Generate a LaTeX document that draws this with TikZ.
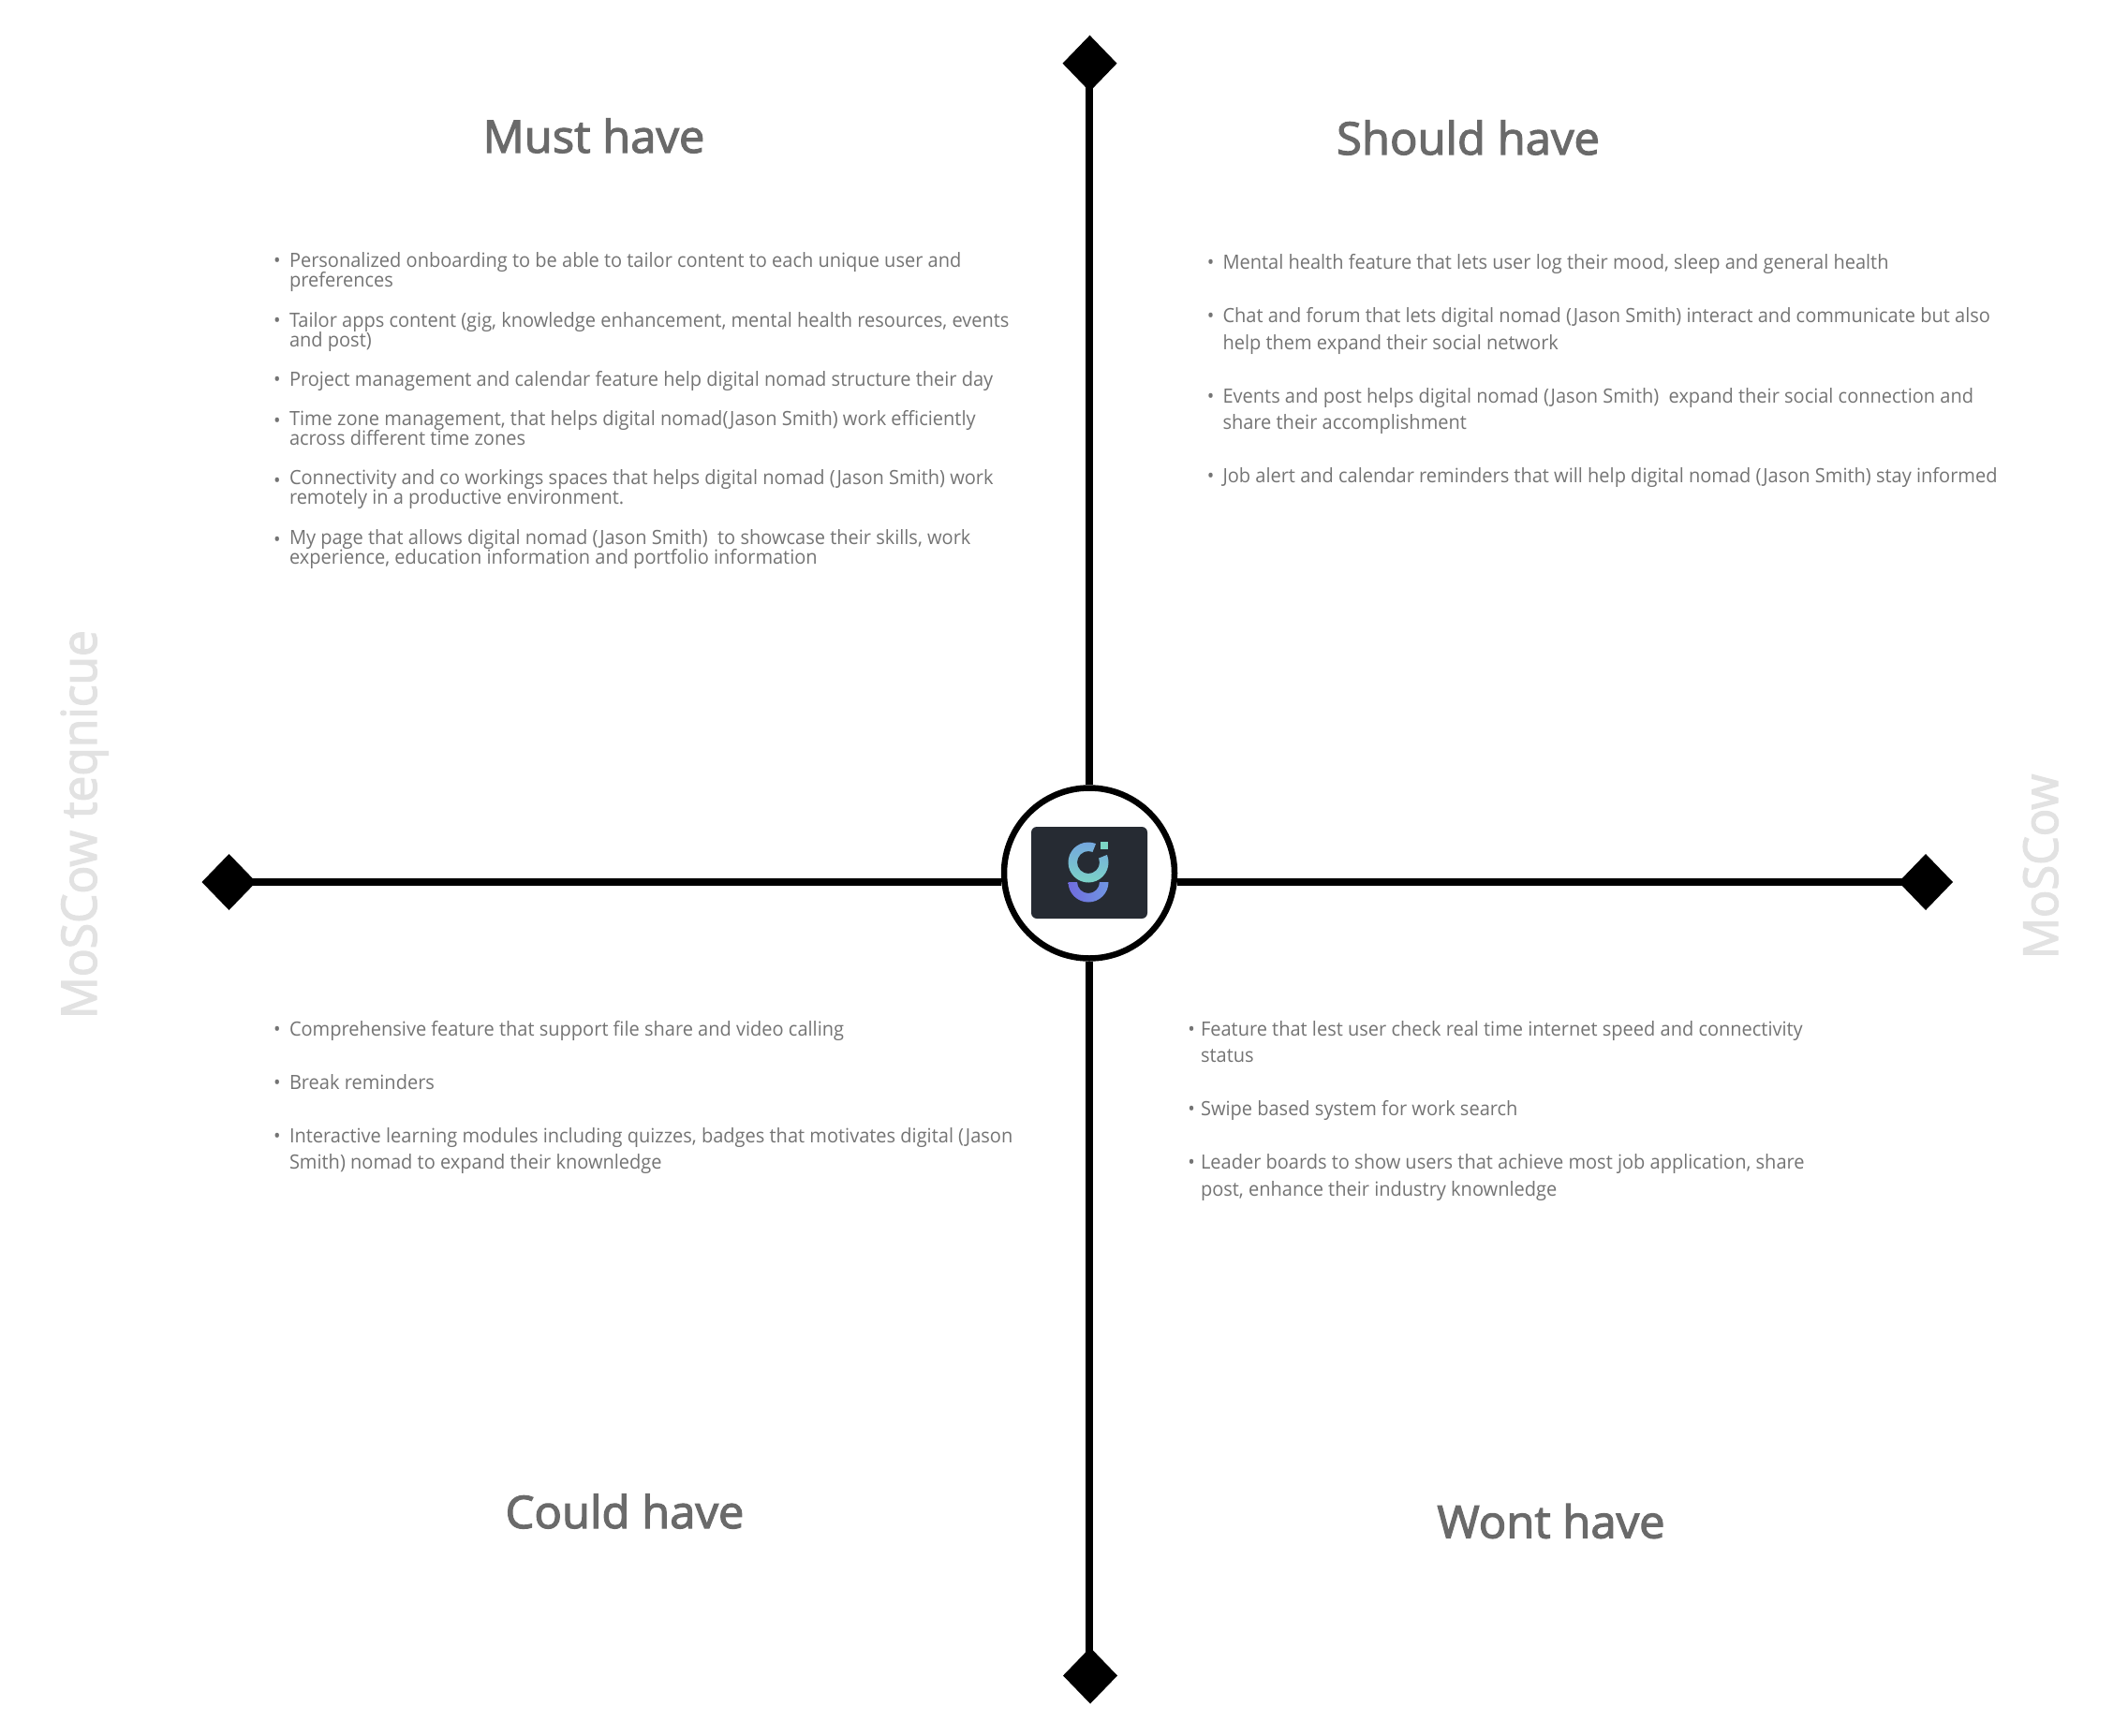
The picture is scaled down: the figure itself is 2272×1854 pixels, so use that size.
\documentclass[tikz,border=0pt]{standalone}
\usepackage{fontspec}
\usetikzlibrary{shapes.geometric}
\setmainfont[FakeStretch=0.953]{Open Sans}
\newfontfamily\headfont[FakeStretch=1.02,FakeBold=2.5]{Open Sans}
\newfontfamily\sidefont[FakeStretch=0.955,FakeBold=2.5]{Open Sans}
\definecolor{bodytext}{HTML}{747474}
\definecolor{headtext}{HTML}{6A6A6A}
\definecolor{sidetext}{HTML}{E2E2E2}
\definecolor{logobg}{HTML}{262B33}
\definecolor{logoteal}{HTML}{7CD6C5}
\definecolor{logoblue}{HTML}{74A4E0}
\definecolor{logoviolet}{HTML}{706CDE}
\definecolor{logosky}{HTML}{7096E2}
\tikzset{
  lineitem/.style={anchor=base west,inner sep=0pt,outer sep=0pt,text=bodytext,font=\fontsize{21}{21}\selectfont},
  bulletmark/.style={anchor=base,inner sep=0pt,outer sep=0pt,text=bodytext,font=\fontsize{21}{21}\selectfont},
  heading/.style={anchor=base,inner sep=0pt,outer sep=0pt,text=headtext,font=\headfont\fontsize{48}{48}\selectfont},
  sidelabel/.style={anchor=base west,rotate=90,inner sep=0pt,outer sep=0pt,text=sidetext,font=\sidefont\fontsize{52}{52}\selectfont},
  endmark/.style={diamond,aspect=1,fill=black,inner sep=0pt,outer sep=0pt,minimum width=58pt,minimum height=60pt},
  hubring/.style={circle,draw=black,fill=white,line width=6.5pt,inner sep=0pt,minimum size=182pt},
  axisline/.style={draw=black,line width=7.5pt},
  logobox/.style={rectangle,fill=logobg,rounded corners=6pt,inner sep=0pt,minimum width=124pt,minimum height=98pt}
}
\begin{document}
\begin{tikzpicture}[x=1pt,y=-1pt]
\useasboundingbox (0,0) rectangle (2272,1854);
\fill[white] (0,0) rectangle (2272,1854);
% hub and end marks
\node[hubring] (hub) at (1163,932.5) {};
\node[logobox] (logo) at (1163,932) {};
\node[endmark] (top) at (1163.5,67.7) {};
\node[endmark] (bottom) at (1164,1789.5) {};
\node[endmark] (left) at (244.5,942) {};
\node[endmark] (right) at (2056,942) {};
% connectors
\draw[axisline] (hub.north |- top.center) -- (hub.north);
\draw[axisline] (hub.south |- bottom.center) -- (hub.south);
\draw[axisline] (left.center) -- (left.center -| hub.west);
\draw[axisline] (right.center) -- (right.center -| hub.east);
% logo
\shade[left color=logoblue,right color=logoteal,shading angle=0]
  (1162,921) ++(-68:21.5) arc[start angle=-68,end angle=-382,radius=21.5]
  -- ++(-22:-9.5) arc[start angle=-382,end angle=-68,radius=12] -- cycle;
\fill[logoteal] (1175,899.3) rectangle (1183.3,907.3);
\shade[left color=logoviolet,right color=logosky]
  (1140.5,942) arc[start angle=180,end angle=0,radius=21.5] -- ++(-9.5,0)
  arc[start angle=0,end angle=180,radius=12] -- cycle;
% headings
\node[heading] (hmust) at (634,163) {Must have};
\node[heading] (hshould) at (1567.5,165) {Should have};
\node[heading] (hcould) at (667,1632) {Could have};
\node[heading] (hwont) at (1656,1642.5) {Wont have};
% side labels
\node[sidelabel] (sideleft) at (103,1088) {MoSCow teqnicue};
\node[sidelabel,font=\sidefont\fontsize{51}{51}\selectfont] (sideright) at (2197,1024) {MoSCow};
% Must have
\node[bulletmark] (mb1) at (296,285) {•};
\node[lineitem] (m1a) at (309,285) {Personalized onboarding to be able to tailor content to each unique user and};
\node[lineitem] (m1b) at (309,306) {preferences};
\node[bulletmark] (mb2) at (296,349) {•};
\node[lineitem] (m2a) at (309,349) {Tailor apps content (gig, knowledge enhancement, mental health resources, events};
\node[lineitem] (m2b) at (309,370) {and post)};
\node[bulletmark] (mb3) at (296,412.3) {•};
\node[lineitem] (m3a) at (309,412.3) {Project management and calendar feature help digital nomad structure their day};
\node[bulletmark] (mb4) at (296,456) {•};
\node[lineitem] (m4a) at (309,454) {Time zone management, that helps digital nomad(Jason Smith) work efficiently};
\node[lineitem] (m4b) at (309,475) {across different time zones};
\node[bulletmark] (mb5) at (296,520) {•};
\node[lineitem] (m5a) at (309,517.3) {Connectivity and co workings spaces that helps digital nomad (Jason Smith) work};
\node[lineitem] (m5b) at (309,538.3) {remotely in a productive environment.};
\node[bulletmark] (mb6) at (296,583) {•};
\node[lineitem] (m6a) at (309,581) {My page that allows digital nomad (Jason Smith)\ \ to showcase their skills, work};
\node[lineitem] (m6b) at (309,602.3) {experience, education information and portfolio information};
% Should have
\node[bulletmark] (sb1) at (1292.5,287) {•};
\node[lineitem] (s1a) at (1305.5,287) {Mental health feature that lets user log their mood, sleep and general health};
\node[bulletmark] (sb2) at (1292.5,344) {•};
\node[lineitem] (s2a) at (1305.5,344) {Chat and forum that lets digital nomad (Jason Smith) interact and communicate but also};
\node[lineitem] (s2b) at (1305.5,373) {help them expand their social network};
\node[bulletmark] (sb3) at (1292.5,430) {•};
\node[lineitem] (s3a) at (1305.5,430) {Events and post helps digital nomad (Jason Smith)\ \ expand their social connection and};
\node[lineitem] (s3b) at (1305.5,458) {share their accomplishment};
\node[bulletmark] (sb4) at (1292.5,515) {•};
\node[lineitem] (s4a) at (1305.5,515) {Job alert and calendar reminders that will help digital nomad (Jason Smith) stay informed};
% Could have
\node[bulletmark] (cb1) at (296,1106) {•};
\node[lineitem] (c1a) at (309,1106) {Comprehensive feature that support file share and video calling};
\node[bulletmark] (cb2) at (296,1163.5) {•};
\node[lineitem] (c2a) at (309,1163.5) {Break reminders};
\node[bulletmark] (cb3) at (296,1220.5) {•};
\node[lineitem] (c3a) at (309,1220.5) {Interactive learning modules including quizzes, badges that motivates digital (Jason};
\node[lineitem] (c3b) at (309,1248.5) {Smith) nomad to expand their knownledge};
% Wont have
\node[bulletmark] (wb1) at (1272,1106) {•};
\node[lineitem] (w1a) at (1282,1106) {Feature that lest user check real time internet speed and connectivity};
\node[lineitem] (w1b) at (1282,1134) {status};
\node[bulletmark] (wb2) at (1272,1191) {•};
\node[lineitem] (w2a) at (1282,1191) {Swipe based system for work search};
\node[bulletmark] (wb3) at (1272,1248) {•};
\node[lineitem] (w3a) at (1282,1248) {Leader boards to show users that achieve most job application, share};
\node[lineitem] (w3b) at (1282,1277) {post, enhance their industry knownledge};
\end{tikzpicture}
\end{document}
